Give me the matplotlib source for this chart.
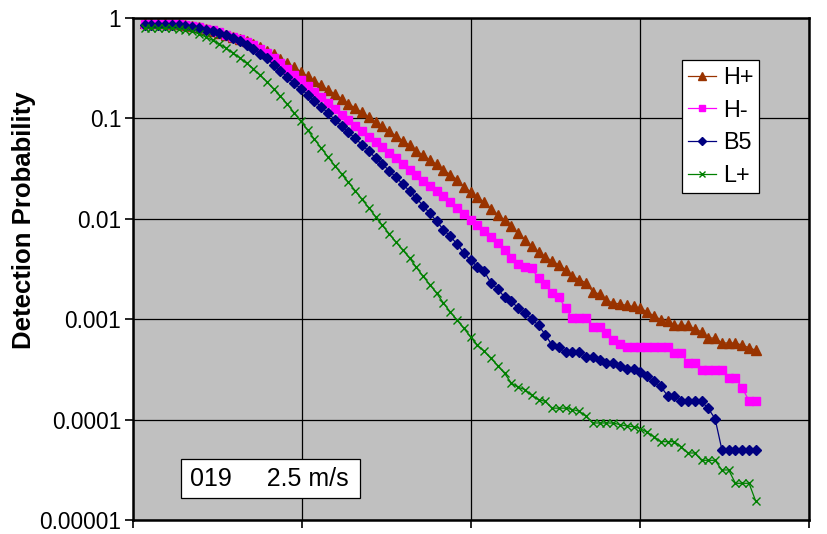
import numpy as np
import matplotlib
matplotlib.use("Agg")
import matplotlib.pyplot as plt
from matplotlib.ticker import NullLocator
from matplotlib.patches import Rectangle

plt.rcParams['font.family'] = ['Liberation Sans', 'DejaVu Sans']

series_names = ["H+", "H-", "B5", "L+"]

h_plus = [0.885, 0.885, 0.885, 0.885, 0.88, 0.872, 0.852, 0.833, 0.807, 0.777,
          0.742, 0.709, 0.677, 0.647, 0.613, 0.586, 0.551, 0.510, 0.473, 0.438,
          0.394, 0.356, 0.323, 0.290, 0.262, 0.238, 0.213, 0.193, 0.175, 0.157,
          0.140, 0.127, 0.115, 0.1025, 0.0923, 0.0836, 0.0743, 0.0669, 0.0601, 0.0540,
          0.0478, 0.0430, 0.0384, 0.0348, 0.0307, 0.0276, 0.0246, 0.0208, 0.0186, 0.0164,
          0.0146, 0.0126, 0.0110, 0.0097, 0.0084, 0.0072, 0.0062, 0.0054, 0.0047, 0.0042,
          0.00377, 0.00349, 0.00311, 0.00267, 0.00248, 0.00230, 0.00187, 0.00178, 0.00154, 0.00145,
          0.00142, 0.00137, 0.00134, 0.00129, 0.00118, 0.00108, 0.00099, 0.00097, 0.00087, 0.00087,
          0.00087, 0.00080, 0.00075, 0.00065, 0.00065, 0.00058, 0.00058, 0.00058, 0.00055, 0.00052,
          0.00049]

h_minus = [0.871, 0.871, 0.871, 0.871, 0.871, 0.865, 0.852, 0.832, 0.807, 0.783,
           0.754, 0.720, 0.682, 0.647, 0.613, 0.581, 0.543, 0.495, 0.445, 0.400,
           0.354, 0.313, 0.273, 0.239, 0.209, 0.183, 0.162, 0.142, 0.125, 0.109,
           0.0956, 0.0840, 0.0743, 0.0658, 0.0582, 0.0515, 0.0452, 0.0403, 0.0351, 0.0309,
           0.0275, 0.0240, 0.0211, 0.0191, 0.0167, 0.0146, 0.0128, 0.0112, 0.0098, 0.00868,
           0.00762, 0.00654, 0.00579, 0.00489, 0.00410, 0.00355, 0.00334, 0.00321, 0.00255, 0.00224,
           0.00181, 0.00165, 0.00128, 0.00102, 0.00102, 0.00102, 0.000842, 0.000842, 0.000723, 0.000621,
           0.000562, 0.000525, 0.000525, 0.000525, 0.000525, 0.000525, 0.000525, 0.000525, 0.000464, 0.000464,
           0.000363, 0.000363, 0.000312, 0.000312, 0.000312, 0.000312, 0.000260, 0.000260, 0.000206, 0.000154,
           0.000154]

b5 = [0.858, 0.858, 0.858, 0.858, 0.858, 0.852, 0.839, 0.820, 0.795, 0.765,
      0.737, 0.709, 0.672, 0.632, 0.586, 0.538, 0.487, 0.441, 0.397, 0.343,
      0.299, 0.256, 0.224, 0.198, 0.172, 0.150, 0.130, 0.113, 0.0971, 0.0840,
      0.0727, 0.0633, 0.0547, 0.0470, 0.0406, 0.0351, 0.0302, 0.0259, 0.0222, 0.0189,
      0.0161, 0.0135, 0.0113, 0.00944, 0.00779, 0.00669, 0.00561, 0.00456, 0.00386, 0.00334,
      0.00300, 0.00229, 0.00201, 0.00165, 0.00151, 0.00129, 0.00115, 0.00100, 0.000869, 0.000701,
      0.000549, 0.000525, 0.000468, 0.000468, 0.000468, 0.000420, 0.000420, 0.000389, 0.000366, 0.000366,
      0.000345, 0.000319, 0.000319, 0.000296, 0.000270, 0.000240, 0.000214, 0.000173, 0.000173, 0.000152,
      0.000152, 0.000152, 0.000152, 0.000129, 0.000102, 0.0000502, 0.0000502, 0.0000502, 0.0000502, 0.0000502,
      0.0000502]

l_plus = [0.789, 0.789, 0.789, 0.789, 0.789, 0.777, 0.765, 0.737, 0.693, 0.647,
          0.599, 0.551, 0.499, 0.448, 0.403, 0.354, 0.313, 0.269, 0.232, 0.196,
          0.166, 0.139, 0.114, 0.0935, 0.0766, 0.0619, 0.0507, 0.0412, 0.0338, 0.0279,
          0.0231, 0.0191, 0.0156, 0.0129, 0.0105, 0.00861, 0.00711, 0.00587, 0.00489, 0.00407,
          0.00329, 0.00267, 0.00221, 0.00181, 0.00145, 0.00118, 0.000982, 0.000811, 0.000665, 0.000553,
          0.000479, 0.000407, 0.000345, 0.000289, 0.000231, 0.000210, 0.000199, 0.000174, 0.000158, 0.000152,
          0.000130, 0.000130, 0.000130, 0.000126, 0.000121, 0.000108, 0.0000925, 0.0000925, 0.0000925, 0.0000925,
          0.0000890, 0.0000864, 0.0000850, 0.0000812, 0.0000747, 0.0000676, 0.0000603, 0.0000603, 0.0000603, 0.0000537,
          0.0000465, 0.0000465, 0.0000393, 0.0000393, 0.0000393, 0.0000315, 0.0000315, 0.0000232, 0.0000232, 0.0000232,
          0.0000153]

y_ticks = [1, 0.1, 0.01, 0.001, 0.0001, 0.00001]
y_tick_labels = ["1", "0.1", "0.01", "0.001", "0.0001", "0.00001"]
y_label = "Detection Probability"
annotation = "019     2.5 m/s"

W, H = 828, 534
fig = plt.figure(figsize=(W / 100, H / 100), dpi=100)
fig.patch.set_facecolor('white')

L, R, T, B = 133, 809, 18, 520
ax = fig.add_axes([L / W, 1 - B / H, (R - L) / W, (B - T) / H])
ax.set_facecolor('#C0C0C0')

x = np.arange(len(h_plus))
styles = [
    dict(color='#993300', marker='^', ms=6.5),
    dict(color='#FF00FF', marker='s', ms=5.6),
    dict(color='#000080', marker='D', ms=4.8),
    dict(color='#008000', marker='x', ms=5.5),
]
for name, vals, st in zip(series_names, [h_plus, h_minus, b5, l_plus], styles):
    ax.plot(x, vals, color=st['color'], lw=0.9, marker=st['marker'], ms=st['ms'],
            mfc=st['color'], mec=st['color'], mew=1.0, label=name, zorder=3)

ax.set_yscale('log')
ax.set_ylim(1e-5, 1)
x0 = -1.72
x1 = 97.83
ax.set_xlim(x0, x1)
ax.set_xticks(np.linspace(x0, x1, 5))
ax.set_xticklabels([])
ax.set_yticks(y_ticks)
ax.set_yticklabels(y_tick_labels)
ax.yaxis.set_minor_locator(NullLocator())
ax.xaxis.set_minor_locator(NullLocator())
ax.grid(True, which='major', color='black', lw=0.9)
ax.set_axisbelow(True)
ax.tick_params(axis='both', direction='out', length=6, width=1.2, color='black')
ax.tick_params(axis='y', labelsize=16.3, pad=2.5)
for s in ax.spines.values():
    s.set_color('black')
    s.set_linewidth(1.8)
    s.set_zorder(5)

fig.text(24 / W, 1 - 220 / H, y_label, rotation=90, ha='center', va='center',
         fontsize=18.5, fontweight='bold')

leg = ax.legend(loc='upper left', bbox_to_anchor=(682 / W, 1 - 60 / H),
                bbox_transform=fig.transFigure, fontsize=16.8, frameon=True,
                fancybox=False, edgecolor='black', framealpha=1, borderpad=0.25,
                handlelength=1.2, handletextpad=0.3, labelspacing=0.42,
                borderaxespad=0, markerscale=0.85)
leg.get_frame().set_linewidth(0.9)

fig.patches.append(Rectangle((181.5 / W, 1 - 498 / H), (360 - 181.5) / W, (498 - 459) / H,
                             transform=fig.transFigure, facecolor='white', edgecolor='black',
                             lw=0.9, zorder=6))
fig.text(190 / W, 1 - 478.5 / H, annotation, ha='left', va='center', fontsize=18, zorder=7)

fig.savefig('out.png', dpi=100, facecolor='white')
